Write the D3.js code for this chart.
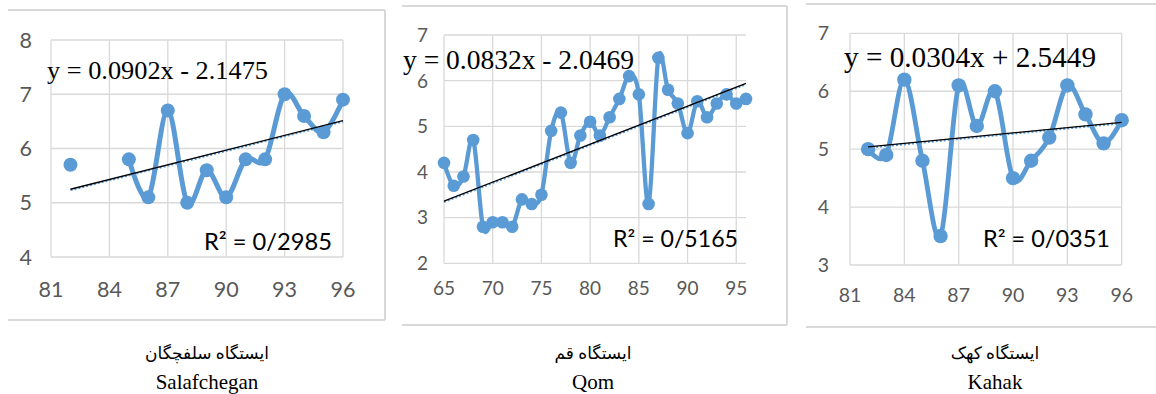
<!DOCTYPE html>
<html>
<head>
<meta charset="utf-8">
<script src="https://cdn.jsdelivr.net/npm/d3@7"></script>
<style>
  body { margin: 0; background: #fff; }
  svg { display: block; }
</style>
</head>
<body>
<svg id="chart" width="1156" height="394"></svg>
<script>
// Annual values for the three stations (null = missing year)
const salafYears  = [82, 83, 84, 85, 86, 87, 88, 89, 90, 91, 92, 93, 94, 95, 96];
const salafValues = [5.7, null, null, 5.8, 5.1, 6.7, 5.0, 5.6, 5.1, 5.8, 5.8, 7.0, 6.6, 6.3, 6.9];

const qomYears  = [65, 66, 67, 68, 69, 70, 71, 72, 73, 74, 75, 76, 77, 78, 79, 80,
                   81, 82, 83, 84, 85, 86, 87, 88, 89, 90, 91, 92, 93, 94, 95, 96];
const qomValues = [4.2, 3.7, 3.9, 4.7, 2.8, 2.9, 2.9, 2.8, 3.4, 3.3, 3.5, 4.9, 5.3, 4.2, 4.8, 5.1,
                   4.8, 5.2, 5.6, 6.1, 5.7, 3.3, 6.5, 5.8, 5.5, 4.85, 5.55, 5.2, 5.5, 5.7, 5.5, 5.6];

const kahakYears  = [82, 83, 84, 85, 86, 87, 88, 89, 90, 91, 92, 93, 94, 95, 96];
const kahakValues = [5.0, 4.9, 6.2, 4.8, 3.5, 6.1, 5.4, 6.0, 4.5, 4.8, 5.2, 6.1, 5.6, 5.1, 5.5];

// Axis ticks
const salafXTicks = [81, 84, 87, 90, 93, 96];
const salafYTicks = [4, 5, 6, 7, 8];
const qomXTicks   = [65, 70, 75, 80, 85, 90, 95];
const qomYTicks   = [2, 3, 4, 5, 6, 7];
const kahakXTicks = [81, 84, 87, 90, 93, 96];
const kahakYTicks = [3, 4, 5, 6, 7];

// Linear trend per station
const trendSlopes     = [0.0902, 0.0832, 0.0304];
const trendIntercepts = [-2.1475, -2.0469, 2.5449];
const equationLabels  = ["y = 0.0902x - 2.1475", "y = 0.0832x - 2.0469", "y = 0.0304x + 2.5449"];
const r2Labels        = ["R² = 0/2985", "R² = 0/5165", "R² = 0/0351"];

// Station captions
const persianNames = ["ایستگاه سلفچگان", "ایستگاه قم", "ایستگاه کهک"];
const latinNames   = ["Salafchegan", "Qom", "Kahak"];

const BLUE = "#5B9BD5";
const GRID = "#d9d9d9";
const TICK = "#595959";

const panels = [
  {
    years: salafYears, values: salafValues, xTicks: salafXTicks, yTicks: salafYTicks,
    xDomain: [81, 96], yDomain: [4, 8],
    plot: { left: 51, right: 343, bottom: 257, top: 40 },
    frame: { left: 8, right: 385, top: 10, bottom: 320, sides: ["top", "right", "bottom"] },
    tickSize: 21.5, yLabelRight: 32, xLabelOffset: 40,
    lineWidth: 5, radius: 7,
    eq: { x: 47, y: 79, size: 26, width: 221 },
    r2: { x: 204, y: 250, size: 23, width: 128 },
    captionX: 207
  },
  {
    years: qomYears, values: qomValues, xTicks: qomXTicks, yTicks: qomYTicks,
    xDomain: [65, 96], yDomain: [2, 7],
    plot: { left: 444, right: 746, bottom: 263.3, top: 35 },
    frame: { left: 402, right: 787, top: 6, bottom: 325, sides: ["top", "right", "bottom"] },
    tickSize: 19, yLabelRight: 428, xLabelOffset: 32,
    lineWidth: 4.3, radius: 6.3,
    eq: { x: 403, y: 69, size: 27.5, width: 231 },
    r2: { x: 613, y: 247, size: 22.5, width: 125 },
    captionX: 593
  },
  {
    years: kahakYears, values: kahakValues, xTicks: kahakXTicks, yTicks: kahakYTicks,
    xDomain: [81, 96], yDomain: [3, 7],
    plot: { left: 850, right: 1121.7, bottom: 265, top: 33.3 },
    frame: { left: 806, right: 1156, top: 4, bottom: 327, sides: ["top", "bottom"] },
    tickSize: 19.5, yLabelRight: 829, xLabelOffset: 37,
    lineWidth: 4.8, radius: 7.2,
    eq: { x: 844, y: 67, size: 29, width: 252 },
    r2: { x: 983, y: 247, size: 22.5, width: 127 },
    captionX: 995
  }
];

const svg = d3.select("#chart");

panels.forEach((p, i) => {
  const g = svg.append("g");
  const x = d3.scaleLinear().domain(p.xDomain).range([p.plot.left, p.plot.right]);
  const y = d3.scaleLinear().domain(p.yDomain).range([p.plot.bottom, p.plot.top]);

  // Outer chart border
  const f = p.frame;
  const edges = {
    top:    [f.left, f.top, f.right, f.top],
    right:  [f.right, f.top, f.right, f.bottom],
    bottom: [f.left, f.bottom, f.right, f.bottom]
  };
  f.sides.forEach(s => {
    const e = edges[s];
    g.append("line")
      .attr("x1", e[0]).attr("y1", e[1]).attr("x2", e[2]).attr("y2", e[3])
      .attr("stroke", GRID).attr("stroke-width", 2);
  });

  // Gridlines
  g.append("g").selectAll("line").data(p.yTicks).join("line")
    .attr("x1", x(p.xDomain[0])).attr("x2", x(p.xDomain[1]))
    .attr("y1", d => y(d)).attr("y2", d => y(d))
    .attr("stroke", GRID).attr("stroke-width", 1.3);
  g.append("g").selectAll("line").data(p.xTicks).join("line")
    .attr("x1", d => x(d)).attr("x2", d => x(d))
    .attr("y1", y(p.yDomain[0])).attr("y2", y(p.yDomain[1]))
    .attr("stroke", GRID).attr("stroke-width", 1.3);

  // Tick labels
  g.append("g").selectAll("text").data(p.yTicks).join("text")
    .attr("x", p.yLabelRight).attr("y", d => y(d)).attr("dy", "0.36em")
    .attr("text-anchor", "end")
    .attr("font-family", "Lato, 'Open Sans', sans-serif")
    .attr("font-size", p.tickSize).attr("fill", TICK)
    .text(d => d);
  g.append("g").selectAll("text").data(p.xTicks).join("text")
    .attr("x", d => x(d)).attr("y", y(p.yDomain[0]) + p.xLabelOffset)
    .attr("text-anchor", "middle")
    .attr("font-family", "Lato, 'Open Sans', sans-serif")
    .attr("font-size", p.tickSize).attr("fill", TICK)
    .text(d => d);

  // Series
  const pts = p.years.map((yr, k) => ({ yr, v: p.values[k] }));
  const line = d3.line()
    .defined(d => d.v != null)
    .x(d => x(d.yr)).y(d => y(d.v))
    .curve(d3.curveCatmullRom.alpha(0));
  g.append("path").datum(pts)
    .attr("d", line)
    .attr("fill", "none").attr("stroke", BLUE)
    .attr("stroke-width", p.lineWidth).attr("stroke-linejoin", "round").attr("stroke-linecap", "round");
  g.append("g").selectAll("circle").data(pts.filter(d => d.v != null)).join("circle")
    .attr("cx", d => x(d.yr)).attr("cy", d => y(d.v)).attr("r", p.radius)
    .attr("fill", BLUE);

  // Trend line (dotted blue under a thin black line)
  const valid = pts.filter(d => d.v != null);
  const x0 = d3.min(valid, d => d.yr), x1 = d3.max(valid, d => d.yr);
  const trend = t => trendSlopes[i] * t + trendIntercepts[i];
  g.append("line")
    .attr("x1", x(x0)).attr("y1", y(trend(x0)) + 0.8)
    .attr("x2", x(x1)).attr("y2", y(trend(x1)) + 0.8)
    .attr("stroke", BLUE).attr("stroke-width", 2.2).attr("stroke-dasharray", "2 2");
  g.append("line")
    .attr("x1", x(x0)).attr("y1", y(trend(x0)))
    .attr("x2", x(x1)).attr("y2", y(trend(x1)))
    .attr("stroke", "#000").attr("stroke-width", 1.3);

  // Trend equation and R²
  g.append("text")
    .attr("x", p.eq.x).attr("y", p.eq.y)
    .attr("font-family", "'Liberation Serif', 'Times New Roman', serif")
    .attr("font-size", p.eq.size).attr("fill", "#000")
    .attr("textLength", p.eq.width).attr("lengthAdjust", "spacingAndGlyphs")
    .text(equationLabels[i]);
  g.append("text")
    .attr("x", p.r2.x).attr("y", p.r2.y)
    .attr("font-family", "Lato, 'Open Sans', sans-serif")
    .attr("font-size", p.r2.size).attr("fill", "#000")
    .attr("textLength", p.r2.width).attr("lengthAdjust", "spacingAndGlyphs")
    .text(r2Labels[i]);

  // Captions
  g.append("text")
    .attr("x", p.captionX).attr("y", 359)
    .attr("text-anchor", "middle")
    .attr("font-family", "'Liberation Serif', 'DejaVu Sans', serif")
    .attr("font-size", 17).attr("fill", "#000")
    .text(persianNames[i]);
  g.append("text")
    .attr("x", p.captionX).attr("y", 389)
    .attr("text-anchor", "middle")
    .attr("font-family", "'Liberation Serif', 'Times New Roman', serif")
    .attr("font-size", 21).attr("fill", "#000")
    .text(latinNames[i]);
});
</script>
</body>
</html>
